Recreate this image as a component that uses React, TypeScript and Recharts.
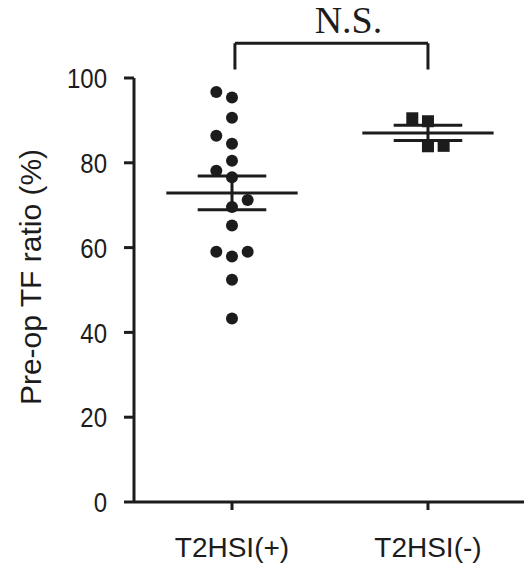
import {
  ComposedChart,
  Scatter,
  XAxis,
  YAxis,
  ReferenceLine,
} from 'recharts';

// group positions on the numeric x axis
const groupNames = ['T2HSI(+)', 'T2HSI(-)'];
const groupX = [1, 2];
const yTicks = [0, 20, 40, 60, 80, 100];

// T2HSI(+) : pre-op TF ratio (%), jittered x
const posX = [0.92, 1, 1, 0.92, 1, 1, 0.92, 1, 1.08, 1, 1, 0.92, 1, 1.08, 1, 1];
const posY = [96.7, 95.4, 90.6, 86.4, 84.5, 80.5, 78.1, 76.6, 71.2, 69.6, 65.2, 59.0, 57.9, 59.0, 52.4, 43.3];

// T2HSI(-)
const negX = [1.92, 2, 2, 2.08];
const negY = [90.5, 89.8, 83.9, 84.0];

const INK = '#1c1c1c';
const SANS = '"Liberation Sans", Arial, sans-serif';
const SERIF = '"Liberation Serif", "Times New Roman", serif';

function stats(v: number[]) {
  const mean = v.reduce((a, b) => a + b, 0) / v.length;
  const sd = Math.sqrt(v.reduce((a, b) => a + (b - mean) ** 2, 0) / (v.length - 1));
  return { mean, sem: sd / Math.sqrt(v.length) };
}

const posPts = posX.map((x, i) => ({ x, y: posY[i] }));
const negPts = negX.map((x, i) => ({ x, y: negY[i] }));
const groupStats = [stats(posY), stats(negY)];

const Dot = (p: any) => <circle cx={p.cx} cy={p.cy} r={6} fill={INK} />;
const Sq = (p: any) => <rect x={p.cx - 6} y={p.cy - 6} width={12} height={12} fill={INK} />;

const XTick = (p: any) => {
  const i = groupX.indexOf(p.payload.value);
  return (
    <text x={p.x} y={p.y + 45} textAnchor="middle" fontFamily={SANS} fontSize={28} fill={INK}>
      {groupNames[i]}
    </text>
  );
};

// the y tick numbers in the figure are a bit taller than wide
const YTick = (p: any) => (
  <text
    transform={`translate(${p.x} ${p.y}) scale(1 1.17)`}
    textAnchor="end"
    dy="0.36em"
    fontFamily={SANS}
    fontSize={24}
    fill={INK}
  >
    {p.payload.value}
  </text>
);

export default function App() {
  const seg = (key: string, x1: number, y1: number, x2: number, y2: number, label?: any) => (
    <ReferenceLine
      key={key}
      segment={[{ x: x1, y: y1 }, { x: x2, y: y2 }]}
      stroke={INK}
      strokeWidth={3}
      ifOverflow="visible"
      label={label}
    />
  );

  return (
    <div style={{ position: 'absolute', left: 0, top: 0, background: '#fff' }}>
      <ComposedChart
        width={524}
        height={566}
        margin={{ top: 78, right: 0, bottom: 0, left: 0 }}
      >
        <XAxis
          type="number"
          dataKey="x"
          domain={[0.5, 2.49]}
          ticks={groupX}
          allowDataOverflow
          height={64}
          tickSize={8}
          tick={<XTick />}
          axisLine={{ stroke: INK, strokeWidth: 3 }}
          tickLine={{ stroke: INK, strokeWidth: 3 }}
        />
        <YAxis
          type="number"
          dataKey="y"
          domain={[0, 100]}
          ticks={yTicks}
          width={134}
          tickSize={10}
          tickMargin={17}
          axisLine={{ stroke: INK, strokeWidth: 3 }}
          tickLine={{ stroke: INK, strokeWidth: 3 }}
          tick={<YTick />}
          label={{
            content: (p: any) => {
              const vb = p.viewBox;
              const cx = 30;
              const cy = vb.y + vb.height / 2 - 13;
              return (
                <text
                  x={cx}
                  y={cy}
                  transform={`rotate(-90 ${cx} ${cy})`}
                  textAnchor="middle"
                  dominantBaseline="central"
                  fontFamily={SANS}
                  fontSize={30}
                  fill={INK}
                >
                  Pre-op TF ratio (%)
                </text>
              );
            },
          }}
        />

        {/* mean and SEM bars */}
        {groupStats.map((s, i) => seg('m' + i, groupX[i] - 0.335, s.mean, groupX[i] + 0.335, s.mean))}
        {groupStats.map((s, i) => seg('u' + i, groupX[i] - 0.175, s.mean + s.sem, groupX[i] + 0.175, s.mean + s.sem))}
        {groupStats.map((s, i) => seg('l' + i, groupX[i] - 0.175, s.mean - s.sem, groupX[i] + 0.175, s.mean - s.sem))}
        {groupStats.map((s, i) => seg('v' + i, groupX[i], s.mean - s.sem, groupX[i], s.mean + s.sem))}

        <Scatter data={posPts} shape={Dot} isAnimationActive={false} />
        <Scatter data={negPts} shape={Sq} isAnimationActive={false} />

        {/* significance bracket */}
        {seg('b1', 1.015, 102, 1.015, 108.2)}
        {seg('b2', 2, 102, 2, 108.2)}
        {seg('b3', 1.015, 108.2, 2, 108.2, {
          value: 'N.S.',
          position: 'top',
          offset: 10,
          dx: 17,
          fill: INK,
          fontSize: 38,
          fontFamily: SERIF,
        })}
      </ComposedChart>
    </div>
  );
}
